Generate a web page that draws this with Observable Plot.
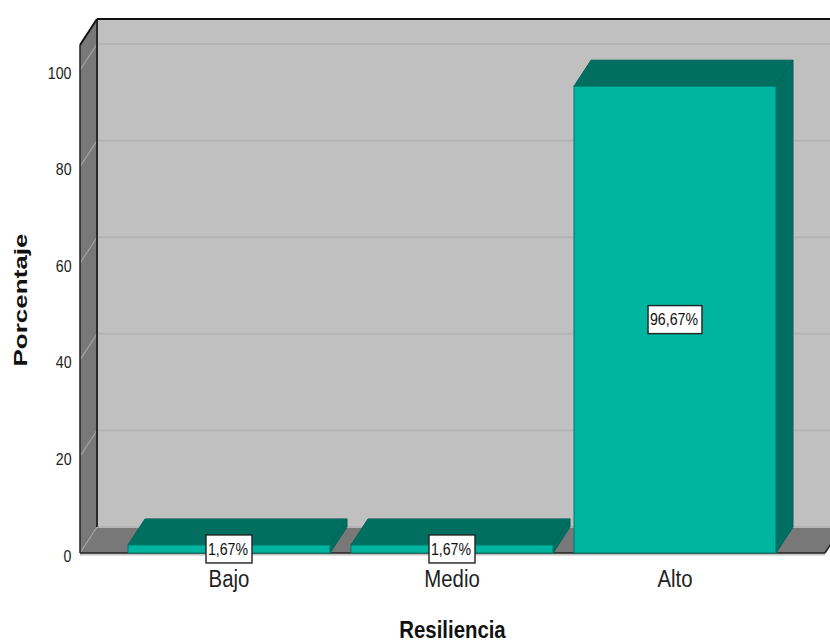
<!DOCTYPE html>
<html>
<head>
<meta charset="utf-8">
<script src="https://cdn.jsdelivr.net/npm/d3@7"></script>
<script src="https://cdn.jsdelivr.net/npm/@observablehq/plot@0.6"></script>
<style>
html,body{margin:0;padding:0;background:#fff}
svg{display:block}
</style>
</head>
<body>
<div id="chart"></div>
<script>
const categories = ["Bajo", "Medio", "Alto"];
const percentages = [1.67, 1.67, 96.67];
const labels = ["1,67%", "1,67%", "96,67%"];
const yTicks = [0, 20, 40, 60, 80, 100];
const yTitle = "Porcentaje";
const xTitle = "Resiliencia";
const yTop = 105.2;
const depthX = 17, depthY = -26;
const sans = "'Liberation Sans',Arial,sans-serif";
const bars = categories.map((c, i) => ({c, v: percentages[i], label: labels[i]}));

const pts = a => a.map(p => p.join(",")).join(" ");

function walls(index, {y}, values, {width, marginLeft, marginRight}) {
  const g = d3.create("svg:g");
  const x0 = marginLeft, x1 = width - marginRight, y0 = y(0), yt = y(yTop);
  const poly = (a, fill) => g.append("polygon").attr("points", pts(a)).attr("fill", fill);
  const line = (a, b, stroke, w) => g.append("line").attr("x1", a[0]).attr("y1", a[1]).attr("x2", b[0]).attr("y2", b[1]).attr("stroke", stroke).attr("stroke-width", w);
  poly([[x0 + depthX, yt + depthY], [x1 + depthX, yt + depthY], [x1 + depthX, y0 + depthY], [x0 + depthX, y0 + depthY]], "#c0c0c0");
  poly([[x0, y0], [x1, y0], [x1 + depthX, y0 + depthY], [x0 + depthX, y0 + depthY]], "#787878");
  poly([[x0, yt], [x0 + depthX, yt + depthY], [x0 + depthX, y0 + depthY], [x0, y0]], "#787878");
  for (const t of yTicks) {
    line([x0 + depthX, y(t) + depthY], [x1 + depthX, y(t) + depthY], "#b4b4b4", 2);
    line([x0, y(t)], [x0 + depthX, y(t) + depthY], "#a2a2a2", 1.2);
  }
  line([x0, y0 + 1.5], [x1, y0 + 1.5], "#c4c4c4", 2);
  line([x0 + depthX, yt + depthY], [x0 + depthX, y0 + depthY], "#2a2a2a", 2);
  line([x0, yt], [x0, y0], "#222", 1.5);
  line([x0, yt], [x0 + depthX, yt + depthY], "#111", 2);
  line([x0 + depthX, yt + depthY], [x1 + depthX, yt + depthY], "#111", 2);
  line([x0, y0], [x1, y0], "#222", 1.5);
  line([x1, y0], [x1 + depthX, y0 + depthY], "#222", 1.5);
  return g.node();
}

function barFaces(index, {x, y}) {
  const g = d3.create("svg:g");
  const w = x.bandwidth();
  for (const b of bars) {
    const l = x(b.c), r = l + w, t = y(b.v), z = y(0);
    const poly = (a, fill) => g.append("polygon").attr("points", pts(a)).attr("fill", fill).attr("stroke", "#00645a").attr("stroke-width", 1);
    poly([[r, t], [r + depthX, t + depthY], [r + depthX, z + depthY], [r, z]], "#006f60");
    poly([[l, t], [l + depthX, t + depthY], [r + depthX, t + depthY], [r, t]], "#006f60");
  }
  return g.node();
}

function labelBoxes(index, {x, y}) {
  const g = d3.create("svg:g");
  const w = x.bandwidth();
  for (const b of bars) {
    const bw = b.label.length * 7.9 + 6.5, bh = 28;
    g.append("rect").attr("x", x(b.c) + w / 2 - bw / 2).attr("y", y(b.v / 2) - bh / 2)
      .attr("width", bw).attr("height", bh).attr("fill", "#fff").attr("stroke", "#222").attr("stroke-width", 1.4);
  }
  return g.node();
}

const chart = Plot.plot({
  width: 830,
  height: 642,
  marginLeft: 80,
  marginRight: 5,
  marginTop: 0,
  marginBottom: 89,
  style: {background: "#fff", fontFamily: sans, overflow: "hidden"},
  x: {type: "band", domain: categories, range: [128, 776], paddingInner: 21 / 223, paddingOuter: 0, align: 0.5, round: false, label: null},
  y: {domain: [0, yTop], range: [553, 45], label: null},
  marks: [
    walls,
    barFaces,
    Plot.barY(bars, {x: "c", y: "v", fill: "#00b5a0", stroke: "#00776a", strokeWidth: 1}),
    labelBoxes,
    Plot.text(bars, {x: "c", y: d => d.v / 2, text: "label", fontSize: 16, fill: "#111", dx: -1.5}),
    Plot.axisY({ticks: yTicks, tickSize: 0, tickPadding: 9, label: null, dy: 3, fontSize: 16, color: "#222", tickFormat: d => d}),
    Plot.axisX({tickSize: 0, tickPadding: 17, label: null, fontSize: 23, color: "#222", dx: -0.5}),
    Plot.text([yTitle], {frameAnchor: "left", textAnchor: "middle", dx: -60, dy: 23, rotate: -90, text: d => d, fontWeight: "bold", fontSize: 19, fill: "#111"}),
    Plot.text([xTitle], {x: () => "Medio", frameAnchor: "bottom", dy: 84, text: d => d, fontWeight: "bold", fontSize: 23, fill: "#111"})
  ]
});
document.getElementById("chart").appendChild(chart);
// The reference's lettering is a condensed face: fit each text to its measured width.
chart.querySelectorAll("text").forEach(t => {
  const s = t.textContent.trim();
  const f = s === yTitle ? null : 0.885;
  const len = f ? t.getComputedTextLength() * f : 133;
  t.setAttribute("textLength", len);
  t.setAttribute("lengthAdjust", "spacingAndGlyphs");
});
</script>
</body>
</html>
